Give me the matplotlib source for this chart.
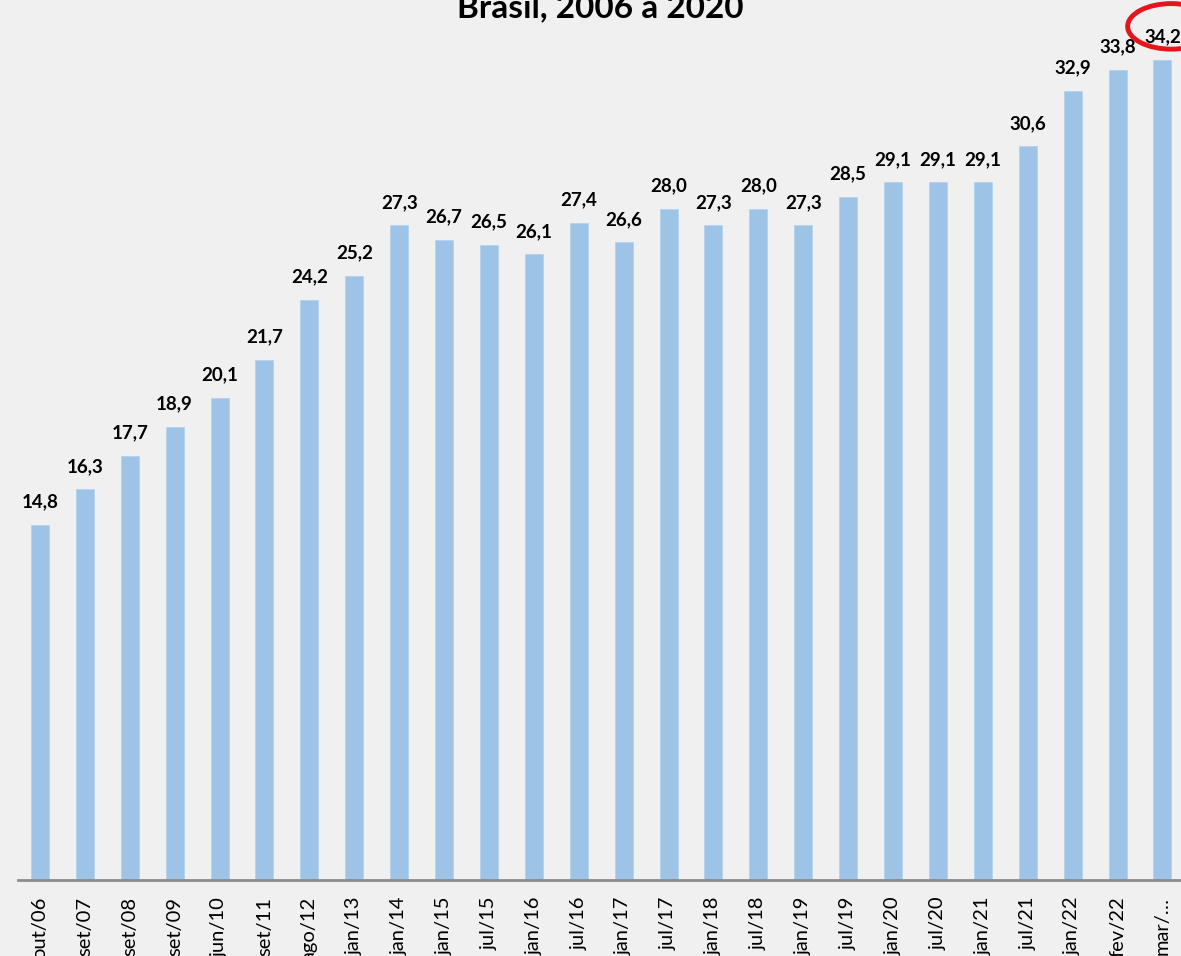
import matplotlib.pyplot as plt
from matplotlib.patches import Ellipse

# data
periods = ['out/06', 'set/07', 'set/08', 'set/09', 'jun/10', 'set/11', 'ago/12',
           'jan/13', 'jan/14', 'jan/15', 'jul/15', 'jan/16', 'jul/16', 'jan/17',
           'jul/17', 'jan/18', 'jul/18', 'jan/19', 'jul/19', 'jan/20', 'jul/20',
           'jan/21', 'jul/21', 'jan/22', 'fev/22', 'mar/…']
values = [14.8, 16.3, 17.7, 18.9, 20.1, 21.7, 24.2, 25.2, 27.3, 26.7, 26.5, 26.1,
          27.4, 26.6, 28.0, 27.3, 28.0, 27.3, 28.5, 29.1, 29.1, 29.1, 30.6, 32.9,
          33.8, 34.2]
title = 'Brasil, 2006 a 2020'

plt.rcParams['font.family'] = ['Lato', 'DejaVu Sans']

bg = '#f0f0f0'
fig = plt.figure(figsize=(11.81, 9.56), dpi=100, facecolor=bg)
ax = fig.add_axes([17.5 / 1181, 1 - 880 / 956, 1167.4 / 1181, 880 / 956])
ax.set_facecolor(bg)

x = range(len(values))
ax.bar(x, values, width=0.4, color='#9dc3e6', edgecolor='#b4d2ee', linewidth=0.6, zorder=2)

for xi, v in zip(x, values):
    ax.text(xi, v + 0.6, f'{v:.1f}'.replace('.', ','), ha='center', va='bottom',
            fontsize=13.5, fontweight='bold', color='black', clip_on=False)

ax.set_xlim(-0.5, len(values) - 0.5)
ax.set_ylim(0, 36.7)
ax.set_xticks(list(x))
ax.set_xticklabels(periods, rotation=90, fontsize=14.5, color='black')
ax.tick_params(axis='x', length=0, pad=12)
ax.set_yticks([])

for side in ['top', 'right', 'left']:
    ax.spines[side].set_visible(False)
ax.spines['bottom'].set_color('#8c8c8c')
ax.spines['bottom'].set_linewidth(2)

# red circle around the last value
ax.add_patch(Ellipse((25.2, 35.6), 1.95, 1.9, fill=False, edgecolor='#e8141c',
                     linewidth=3.5, clip_on=False, zorder=5))

fig.text(0.508, 1 - 17 / 956, title, ha='center', va='baseline',
         fontsize=24, fontweight='bold', color='black')

plt.savefig('out.png', dpi=100, facecolor=bg)
